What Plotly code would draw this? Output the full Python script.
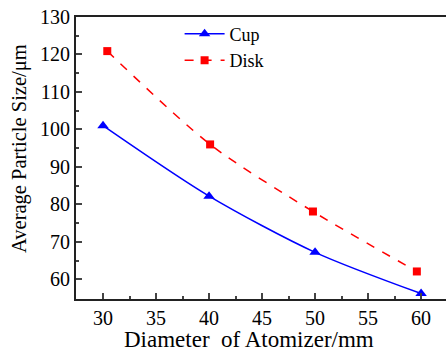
import plotly.graph_objects as go

cup_x = [30, 40, 50, 60]
cup_y = [101, 82.2, 67.2, 56.2]
disk_x = [30.4, 40.1, 49.8, 59.6]
disk_y = [120.9, 96, 78.1, 62.1]

x_ticks = [30, 35, 40, 45, 50, 55, 60]
y_ticks = [60, 70, 80, 90, 100, 110, 120, 130]

FONT = "Liberation Serif"

fig = go.Figure()
fig.add_trace(go.Scatter(
    x=cup_x, y=cup_y, name="Cup", mode="lines+markers",
    line=dict(color="#0000ff", width=1.5, shape="spline", smoothing=0.8),
    marker=dict(symbol="triangle-up", size=10, color="#0000ff"),
))
fig.add_trace(go.Scatter(
    x=disk_x, y=disk_y, name="Disk", mode="lines+markers",
    line=dict(color="#ff0000", width=1.5, dash="dash", shape="spline", smoothing=0.8),
    marker=dict(symbol="square", size=8, color="#ff0000"),
))

fig.update_layout(
    width=446, height=350,
    margin=dict(l=76, r=0, t=17, b=51),
    plot_bgcolor="white", paper_bgcolor="white",
    font=dict(family=FONT, color="black"),
    showlegend=True,
    legend=dict(x=0.28, y=1.005, xanchor="left", yanchor="top",
                bgcolor="rgba(0,0,0,0)", font=dict(size=18, family=FONT),
                tracegroupgap=0, itemwidth=40),
    xaxis=dict(range=[27.45, 62.35], tickvals=x_ticks, ticks="inside", ticklen=6,
               tickwidth=1.5, showline=True, linewidth=2, linecolor="#222",
               mirror=True, showgrid=False, zeroline=False,
               tickfont=dict(size=20, family=FONT),
               minor=dict(dtick=2.5, ticks="inside", ticklen=3, tickwidth=1.5)),
    yaxis=dict(range=[54.75, 130], tickvals=y_ticks, ticks="inside", ticklen=6,
               tickwidth=1.5, showline=True, linewidth=2, linecolor="#222",
               showgrid=False, zeroline=False,
               tickfont=dict(size=20, family=FONT),
               minor=dict(dtick=5, ticks="inside", ticklen=3, tickwidth=1.5)),
    annotations=[
        dict(text="Diameter  of Atomizer/mm", xref="paper", yref="paper",
             x=(249 - 76) / 370, y=-(339 - 299) / 282, xanchor="center", yanchor="middle",
             showarrow=False, font=dict(size=23, family=FONT)),
        dict(text="Average Particle Size/μm", xref="paper", yref="paper",
             x=-(76 - 19) / 370, y=1 - (149 - 17) / 282, xanchor="center", yanchor="middle",
             textangle=-90, showarrow=False, font=dict(size=20.5, family=FONT)),
    ],
)

fig.write_html("out.html")
